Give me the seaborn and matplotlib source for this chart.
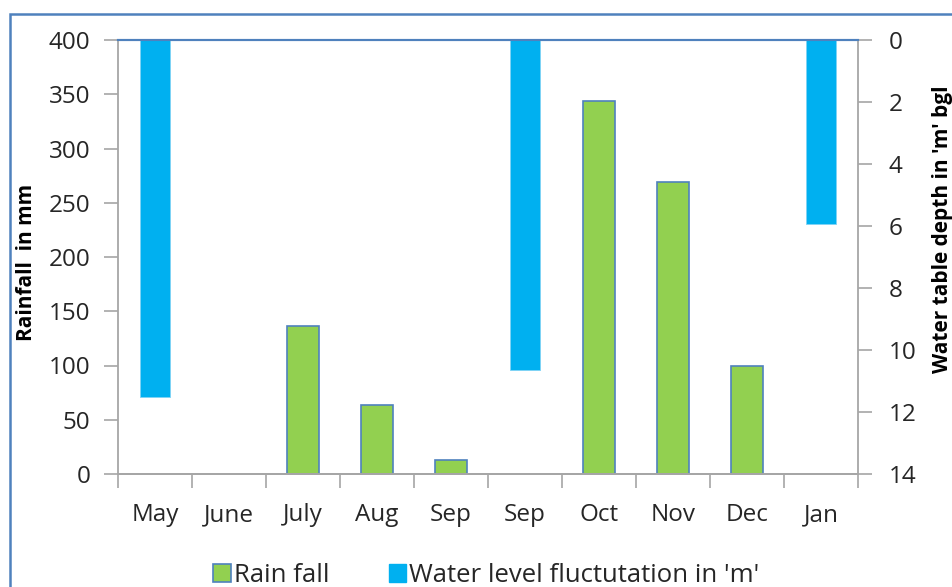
import numpy as np
import pandas as pd
import matplotlib
matplotlib.use("Agg")
import matplotlib.pyplot as plt
import seaborn as sns
from matplotlib.patches import Patch, Rectangle

# Monthly observations
months = ["May", "June", "July", "Aug", "Sep", "Sep", "Oct", "Nov", "Dec", "Jan"]
rainfall_mm = [np.nan, np.nan, 136, 64, 13, np.nan, 344, 269, 100, np.nan]
water_depth_m = [11.5, np.nan, np.nan, np.nan, np.nan, 10.65, np.nan, np.nan, np.nan, 5.95]

left_ticks = [0, 50, 100, 150, 200, 250, 300, 350, 400]
right_ticks = [0, 2, 4, 6, 8, 10, 12, 14]

GREEN = "#92D050"
BLUE = "#00B0F0"
EDGE = "#4F81BD"
GREY = "#A6A6A6"
TEXT = "#262626"

sns.set_theme(style="white")
plt.rcParams["font.family"] = ["Open Sans", "DejaVu Sans"]

slots = [f"s{i}" for i in range(len(months))]
df = pd.DataFrame({"slot": slots, "rain": rainfall_mm, "depth": water_depth_m})

fig = plt.figure(figsize=(9.52, 5.87), dpi=100)
ax = fig.add_axes([118 / 952, 1 - 474 / 587, 740 / 952, 434 / 587])
ax2 = ax.twinx()

sns.barplot(data=df, x="slot", y="rain", order=slots, color=GREEN, width=0.42,
            edgecolor=EDGE, linewidth=1.2, saturation=1, ax=ax)
sns.barplot(data=df, x="slot", y="depth", order=slots, color=BLUE, width=0.40,
            edgecolor="#7FD3F5", linewidth=0.6, saturation=1, ax=ax2)

ax.set_xlim(-0.5, len(months) - 0.5)
ax.set_ylim(0, 400)
ax2.set_ylim(14, 0)

ax.set_yticks(left_ticks)
ax2.set_yticks(right_ticks)

# category boundaries carry the ticks; month names sit between them
ax.set_xticks(np.arange(-0.5, len(months), 1.0))
ax.set_xticklabels([])
ax.set_xticks(np.arange(len(months)), minor=True)
ax.set_xticklabels(months, minor=True)

TICK_FS = 17.5
ax.tick_params(axis="x", which="major", direction="out", length=10, width=1.2,
               color=GREY, bottom=True)
ax.tick_params(axis="x", which="minor", length=0, pad=21, labelsize=TICK_FS,
               labelcolor=TEXT)
ax.tick_params(axis="y", direction="out", length=10, width=1.2, color=GREY,
               left=True, labelsize=TICK_FS, labelcolor=TEXT, pad=10)
ax2.tick_params(axis="y", direction="out", length=10, width=1.2, color=GREY,
                right=True, labelsize=TICK_FS, labelcolor=TEXT, pad=12)

ax.set_xlabel("")
ax.set_ylabel("Rainfall  in mm", fontsize=15, fontweight="bold", color="black")
ax.yaxis.set_label_coords(-0.11, 0.488)
ax2.set_ylabel("Water table depth in 'm' bgl", fontsize=15, fontweight="bold",
               color="black", rotation=90)
ax2.yaxis.set_label_coords(1.1, 0.565)

for a in (ax, ax2):
    for side in ("left", "right", "bottom"):
        a.spines[side].set_color(GREY)
        a.spines[side].set_linewidth(1.3)
    a.spines["top"].set_color(EDGE)
    a.spines["top"].set_linewidth(1.5)
    a.grid(False)
ax2.spines["left"].set_visible(False)
ax.spines["right"].set_visible(False)

handles = [Patch(facecolor=GREEN, edgecolor=EDGE, linewidth=1.2, label="Rain fall"),
           Patch(facecolor=BLUE, edgecolor=BLUE, label="Water level fluctutation in 'm'")]
fig.legend(handles=handles, loc="center", bbox_to_anchor=(0.511, 0.02), ncol=2,
           frameon=False, fontsize=18.5, handlelength=0.68, handleheight=0.68,
           handletextpad=0.12, columnspacing=2.3, labelcolor=TEXT)

# chart area outline
fig.patches.append(Rectangle((9.5 / 952, -0.1), 1.2, 1 - 13.5 / 587 + 0.1,
                             transform=fig.transFigure, fill=False,
                             edgecolor="#4F81BD", linewidth=1.8))

fig.savefig("out.png", dpi=100)
